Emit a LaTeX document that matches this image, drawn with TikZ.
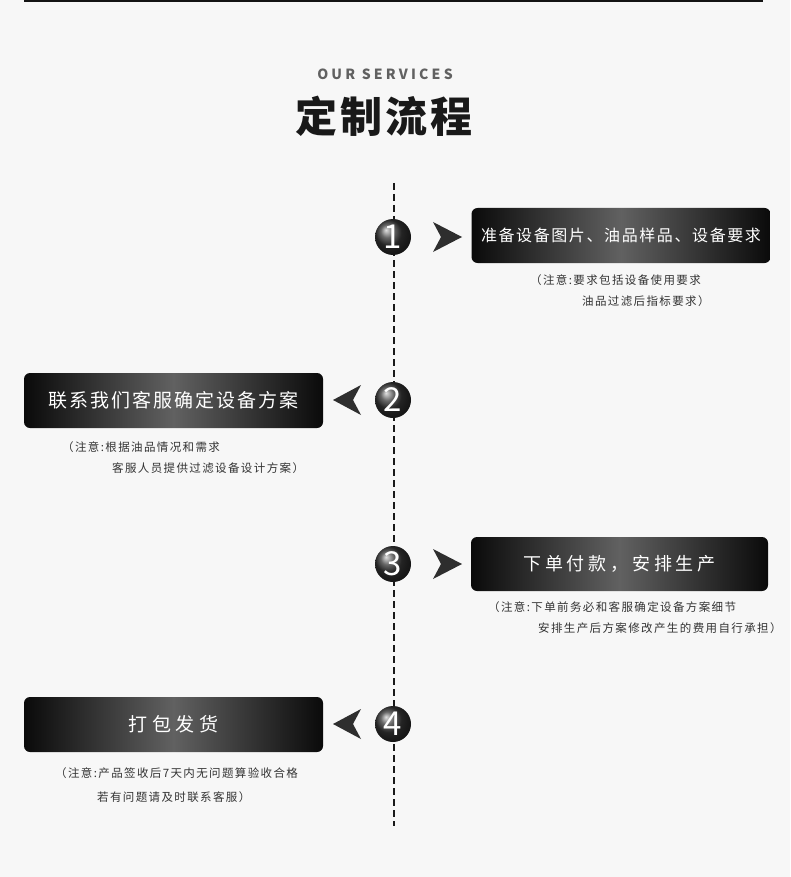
\documentclass[tikz,border=0pt]{standalone}
\usepackage{fontspec}
\newfontfamily\cjk{Noto Sans CJK SC}
\usetikzlibrary{calc}

\tikzset{
    stepbox/.style={rounded corners=6pt, minimum width=299pt, minimum height=55pt, inner sep=0pt,
        left color=black!96, right color=black!96, middle color=black!62, text=white},
    stepnum/.style={circle, minimum size=36pt, inner sep=0pt, ball color=black!80, text=white,
        font=\cjk\fontsize{33}{33}\selectfont},
    note/.style={anchor=west, inner sep=0pt, text=black!80,
        font=\cjk\fontsize{11.5}{13}\selectfont\addfontfeatures{LetterSpace=12}},
    pointer/.style={fill=black!82}
}

\begin{document}
\begin{tikzpicture}[x=1pt, y=-1pt]

    % page background and top rule
    \fill[black!3] (0,0) rectangle (790,877);
    \draw[line width=2pt, black!92] (24,1) -- (763,1);

    % heading
    \node[text=black!62, font=\cjk\bfseries\fontsize{14}{14}\selectfont\addfontfeatures{LetterSpace=23}] (sub) at (385,74) {OUR SERVICES};
    \node[text=black!90, font=\cjk\bfseries\fontsize{42}{44}\selectfont\addfontfeatures{LetterSpace=7}] (title) at (384,116) {定制流程};

    % dashed time line
    \draw[line width=2pt, black!90, dash pattern=on 7pt off 4pt] (394,183) -- (394,826);

    % step numbers
    \foreach \n/\y in {1/237, 2/400, 3/564, 4/724} {
        \node[stepnum] (c\n) at (393,\y) {\n};
    }

    % pointers, right for odd steps, left for even steps
    \foreach \n in {1,3} {
        \fill[pointer] ($(c\n)+(40,-15)$) -- ($(c\n)+(69,0)$) -- ($(c\n)+(40,15)$) -- ($(c\n)+(48,0)$) -- cycle;
    }
    \foreach \n in {2,4} {
        \fill[pointer] ($(c\n)+(-32,-15)$) -- ($(c\n)+(-60,0)$) -- ($(c\n)+(-32,15)$) -- ($(c\n)+(-40,0)$) -- cycle;
    }

    % step boxes
    \node[stepbox, font=\cjk\fontsize{16}{18}\selectfont\addfontfeatures{LetterSpace=10}] (box1) at (621,235.5) {准备设备图片、油品样品、设备要求};
    \node[stepbox, font=\cjk\fontsize{19}{20}\selectfont\addfontfeatures{LetterSpace=11}] (box2) at (173.5,400.5) {联系我们客服确定设备方案};
    \node[stepbox, minimum width=297pt, minimum height=54pt, font=\cjk\fontsize{18}{20}\selectfont\addfontfeatures{LetterSpace=21}] (box3) at (619.5,564) {下单付款，安排生产};
    \node[stepbox, font=\cjk\fontsize{19}{20}\selectfont\addfontfeatures{LetterSpace=26}] (box4) at (173.5,724.5) {打包发货};

    % notes under the boxes
    \node[note] (note1a) at (530,280) {（注意:要求包括设备使用要求};
    \node[note] (note1b) at (582,301) {油品过滤后指标要求）};
    \node[note] (note2a) at (62,447) {（注意:根据油品情况和需求};
    \node[note] (note2b) at (112,468) {客服人员提供过滤设备设计方案）};
    \node[note] (note3a) at (488,607) {（注意:下单前务必和客服确定设备方案细节};
    \node[note] (note3b) at (538,628) {安排生产后方案修改产生的费用自行承担）};
    \node[note] (note4a) at (55,773) {（注意:产品签收后7天内无问题算验收合格};
    \node[note] (note4b) at (97,797) {若有问题请及时联系客服）};

\end{tikzpicture}
\end{document}
